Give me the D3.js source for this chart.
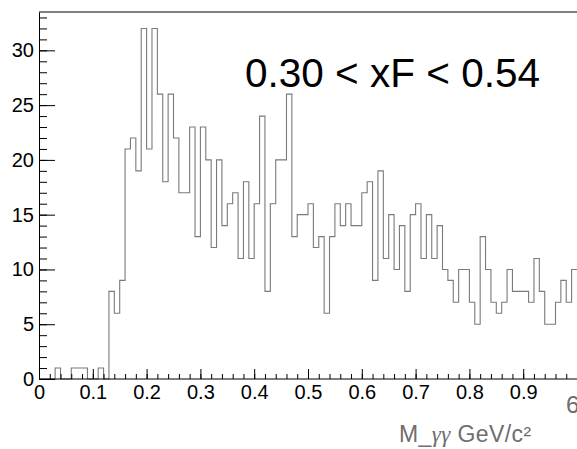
<!DOCTYPE html>
<html><head><meta charset="utf-8">
<script src="https://cdn.jsdelivr.net/npm/d3@7"></script>
<style>body{margin:0;background:#fff;overflow:hidden} svg{display:block}</style>
</head><body>
<script>
// Histogram: bins of width 0.01 starting at 0
const binStart = 0;
const binWidth = 0.01;
const counts = [
  0,0,0,1,0,0,1,1,1,0,
  0,1,0,8,6,9,21,22,19,32,
  21,32,26,18,26,22,17,17,23,13,
  23,20,12,20,14,16,17,11,18,11,
  16,24,8,16,20,20,26,13,15,15,
  16,12,13,6,13,16,14,16,14,14,
  17,18,9,19,11,15,10,14,8,15,
  16,11,15,11,14,10,9,7,10,10,
  7,5,13,10,7,6,7,10,8,8,
  8,7,11,8,5,5,7,9,7,10
];
const xMajorTicks = [0,0.1,0.2,0.3,0.4,0.5,0.6,0.7,0.8,0.9];
const xMajorLabels = ["0","0.1","0.2","0.3","0.4","0.5","0.6","0.7","0.8","0.9"];
const yMajorTicks = [0,5,10,15,20,25,30];
const yMajorLabels = ["0","5","10","15","20","25","30"];
const titleText = "0.30 < xF < 0.54";
const axisTitleParts = ["M_", "γγ", " GeV/c²"];

const W = 577, H = 449;
const svg = d3.select("body").append("svg").attr("width", W).attr("height", H)
  .style("font-family", "'Liberation Sans', Arial, Helvetica, sans-serif");

const x = d3.scaleLinear().domain([0, 1]).range([39, 577]);
const y = d3.scaleLinear().domain([0, 33.5]).range([379, 12]);

// frame top
svg.append("path")
  .attr("d", `M${x(0)},${y(33.5)}H${x(1.05)}`)
  .attr("stroke", "#000").attr("stroke-width", 1).attr("fill", "none");

// histogram
const pts = [[x(binStart), y(0)]];
counts.forEach((c, i) => {
  const lo = binStart + i * binWidth, hi = lo + binWidth;
  pts.push([x(lo), y(c)]);
  pts.push([x(hi), y(c)]);
});
svg.append("path")
  .attr("d", d3.line()(pts))
  .attr("fill", "none").attr("stroke", "#7a7a7a").attr("stroke-width", 1.1);

// Y axis minor
const yMinor = d3.range(0, 34, 1);
svg.append("g").attr("transform", `translate(${x(0)},0)`)
  .call(d3.axisLeft(y).tickValues(yMinor).tickSize(-8).tickSizeOuter(0).tickFormat(""))
  .call(g => g.selectAll("line").attr("stroke", "#000"))
  .call(g => g.select(".domain").attr("stroke", "#000"));
// Y axis major
svg.append("g").attr("transform", `translate(${x(0)},0)`)
  .call(d3.axisLeft(y).tickValues(yMajorTicks).tickSize(-16).tickSizeOuter(0).tickPadding(5)
    .tickFormat((d, i) => yMajorLabels[i]))
  .call(g => g.select(".domain").remove())
  .call(g => g.selectAll("line").attr("stroke", "#000"))
  .call(g => g.selectAll("text").attr("font-size", 20).attr("fill", "#000")
    .attr("font-family", "'Liberation Sans', Arial, sans-serif"));

// X axis minor
const xMinor = d3.range(0, 51).map(i => i * 0.02);
svg.append("g").attr("transform", `translate(0,${y(0)})`)
  .call(d3.axisBottom(x).tickValues(xMinor).tickSize(-5).tickSizeOuter(0).tickFormat(""))
  .call(g => g.selectAll("line").attr("stroke", "#000"))
  .call(g => g.select(".domain").attr("d", `M${x(0)},0H${x(1.05)}`).attr("stroke", "#000"));
// X axis major
svg.append("g").attr("transform", `translate(0,${y(0)})`)
  .call(d3.axisBottom(x).tickValues(xMajorTicks).tickSize(-10).tickSizeOuter(0).tickPadding(6)
    .tickFormat((d, i) => xMajorLabels[i]))
  .call(g => g.select(".domain").remove())
  .call(g => g.selectAll("line").attr("stroke", "#000"))
  .call(g => g.selectAll("text").attr("font-size", 20).attr("fill", "#000")
    .attr("font-family", "'Liberation Sans', Arial, sans-serif"));

// Title in the pad
svg.append("text").attr("x", 245).attr("y", 87)
  .attr("font-size", 40.5).attr("fill", "#000").text(titleText);

// Axis title
const at = svg.append("text").attr("x", 399).attr("y", 442)
  .attr("font-size", 23).attr("letter-spacing", 0.4).attr("fill", "#6e6e6e");
at.append("tspan").text(axisTitleParts[0]);
at.append("tspan").attr("font-family", "'Liberation Serif', 'DejaVu Serif', serif")
  .attr("font-style", "italic").text(axisTitleParts[1]);
at.append("tspan").text(axisTitleParts[2]);

// partially visible label at the right edge
svg.append("text").attr("x", 566).attr("y", 413)
  .attr("font-size", 24).attr("fill", "#6e6e6e").text("6");
</script>
</body></html>
